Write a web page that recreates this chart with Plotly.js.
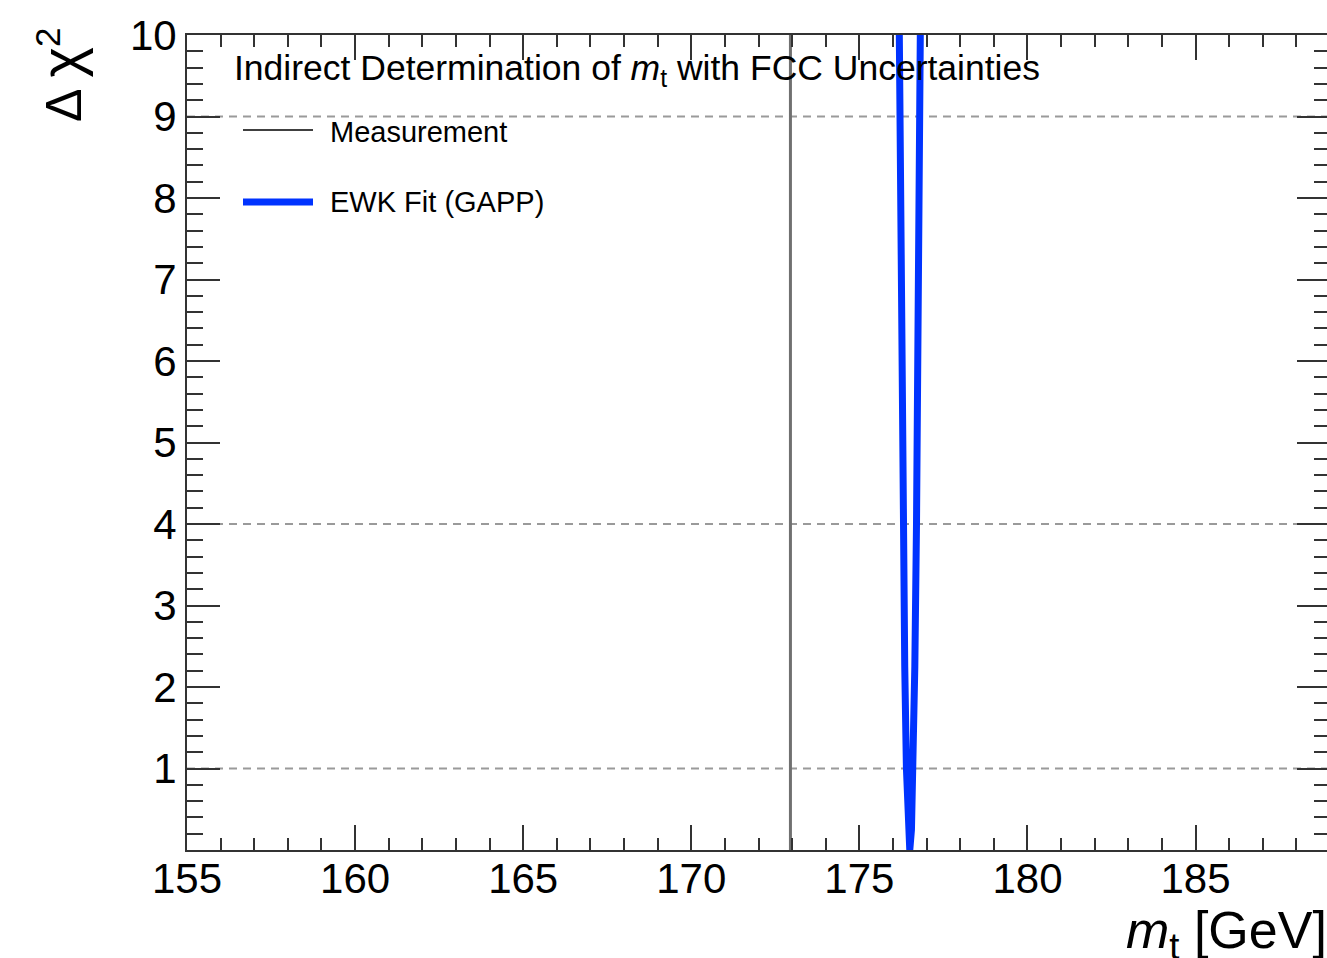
<!DOCTYPE html>
<html>
<head>
<meta charset="utf-8">
<script src="https://cdn.plot.ly/plotly-3.0.1.min.js"></script>
<style>
html,body{margin:0;padding:0;overflow:hidden;background:#fff;}
#chart{width:1340px;height:958px;}
</style>
</head>
<body>
<div id="chart"></div>
<script>
// Data
const xRange = [155, 189];
const yRange = [0, 10];
const xTickVals = [155, 160, 165, 170, 175, 180, 185];
const xTickText = ["155", "160", "165", "170", "175", "180", "185"];
const yTickVals = [1, 2, 3, 4, 5, 6, 7, 8, 9, 10];
const yTickText = ["1", "2", "3", "4", "5", "6", "7", "8", "9", "10"];

const measurementMt = [172.95, 172.95];
const measurementChi2 = [0, 10];

const fitMt = [176.17, 176.20, 176.25, 176.30, 176.35, 176.40, 176.45, 176.50, 176.55, 176.60, 176.65, 176.70, 176.75, 176.80, 176.83];
const fitChi2 = [10.9, 9.0, 6.25, 4.0, 2.25, 1.0, 0.25, 0.0, 0.25, 1.0, 2.25, 4.0, 6.25, 9.0, 10.9];

const refLevels = [1, 4, 9];

const titleText = "Indirect Determination of <i>m</i><sub>t</sub> with FCC Uncertainties";
const legendLabels = ["Measurement", "EWK Fit (GAPP)"];
const xTitle = "<i>m</i><sub>t</sub> [GeV]";
const yTitle = "Δ <span style=\"font-size:58px\">χ</span><sup>2</sup>";

const FONT = "Liberation Sans, Arial, Helvetica, sans-serif";

const traces = [];
refLevels.forEach(l => {
  traces.push({
    x: xRange, y: [l, l], mode: 'lines', type: 'scatter',
    line: {color: '#9a9a9a', width: 2, dash: '8px,6px'},
    hoverinfo: 'skip', showlegend: false
  });
});
traces.push({
  x: measurementMt, y: measurementChi2, mode: 'lines', type: 'scatter',
  line: {color: '#707070', width: 3}, showlegend: false, name: legendLabels[0]
});
traces.push({
  x: fitMt, y: fitChi2, mode: 'lines', type: 'scatter',
  line: {color: '#0033ff', width: 7}, showlegend: false, name: legendLabels[1]
});

const L = 187, T = 35, W = 1143, H = 815;
const px = v => (v - L) / W;
const py = v => (T + H - v) / H;

const layout = {
  width: 1340, height: 958,
  margin: {l: L, r: 1340 - L - W, t: T, b: 958 - T - H},
  paper_bgcolor: '#fff', plot_bgcolor: '#fff',
  showlegend: false,
  font: {family: FONT, color: '#000'},
  xaxis: {
    range: xRange, showgrid: false, zeroline: false,
    showline: true, linecolor: '#333', linewidth: 2, mirror: 'ticks',
    ticks: 'inside', ticklen: 25, tickwidth: 2, tickcolor: '#333',
    tickvals: xTickVals, ticktext: xTickText, ticklabelstandoff: -9,
    tickfont: {size: 42, family: FONT, color: '#000'},
    minor: {dtick: 1, tick0: 155, ticks: 'inside', ticklen: 12, tickwidth: 2, tickcolor: '#333', showgrid: false}
  },
  yaxis: {
    range: yRange, showgrid: false, zeroline: false,
    showline: true, linecolor: '#333', linewidth: 2, mirror: 'ticks',
    ticks: 'inside', ticklen: 33, tickwidth: 2, tickcolor: '#333',
    tickvals: yTickVals, ticktext: yTickText,
    tickfont: {size: 42, family: FONT, color: '#000'},
    minor: {dtick: 0.2, tick0: 0, ticks: 'inside', ticklen: 16, tickwidth: 2, tickcolor: '#333', showgrid: false}
  },
  shapes: [
    {type: 'line', xref: 'paper', yref: 'paper', x0: px(243), x1: px(313), y0: py(130), y1: py(130), line: {color: '#000', width: 1.5}},
    {type: 'line', xref: 'paper', yref: 'paper', x0: px(243), x1: px(313), y0: py(202), y1: py(202), line: {color: '#0033ff', width: 7}}
  ],
  annotations: [
    {text: titleText, xref: 'paper', yref: 'paper', x: px(232), y: py(70), xanchor: 'left', yanchor: 'middle', showarrow: false, font: {size: 35.5, family: FONT, color: '#000'}},
    {text: legendLabels[0], xref: 'paper', yref: 'paper', x: px(328), y: py(132), xanchor: 'left', yanchor: 'middle', showarrow: false, font: {size: 29, family: FONT, color: '#000'}},
    {text: legendLabels[1], xref: 'paper', yref: 'paper', x: px(328), y: py(202), xanchor: 'left', yanchor: 'middle', showarrow: false, font: {size: 29, family: FONT, color: '#000'}},
    {text: xTitle, xref: 'paper', yref: 'paper', x: px(1329), y: py(934), xanchor: 'right', yanchor: 'middle', showarrow: false, font: {size: 52, family: FONT, color: '#000'}},
    {text: yTitle, xref: 'paper', yref: 'paper', x: px(60), y: py(26), xanchor: 'center', yanchor: 'top', textangle: -90, showarrow: false, font: {size: 50, family: FONT, color: '#000'}}
  ]
};

Plotly.newPlot('chart', traces, layout, {displayModeBar: false, staticPlot: true});
</script>
</body>
</html>
